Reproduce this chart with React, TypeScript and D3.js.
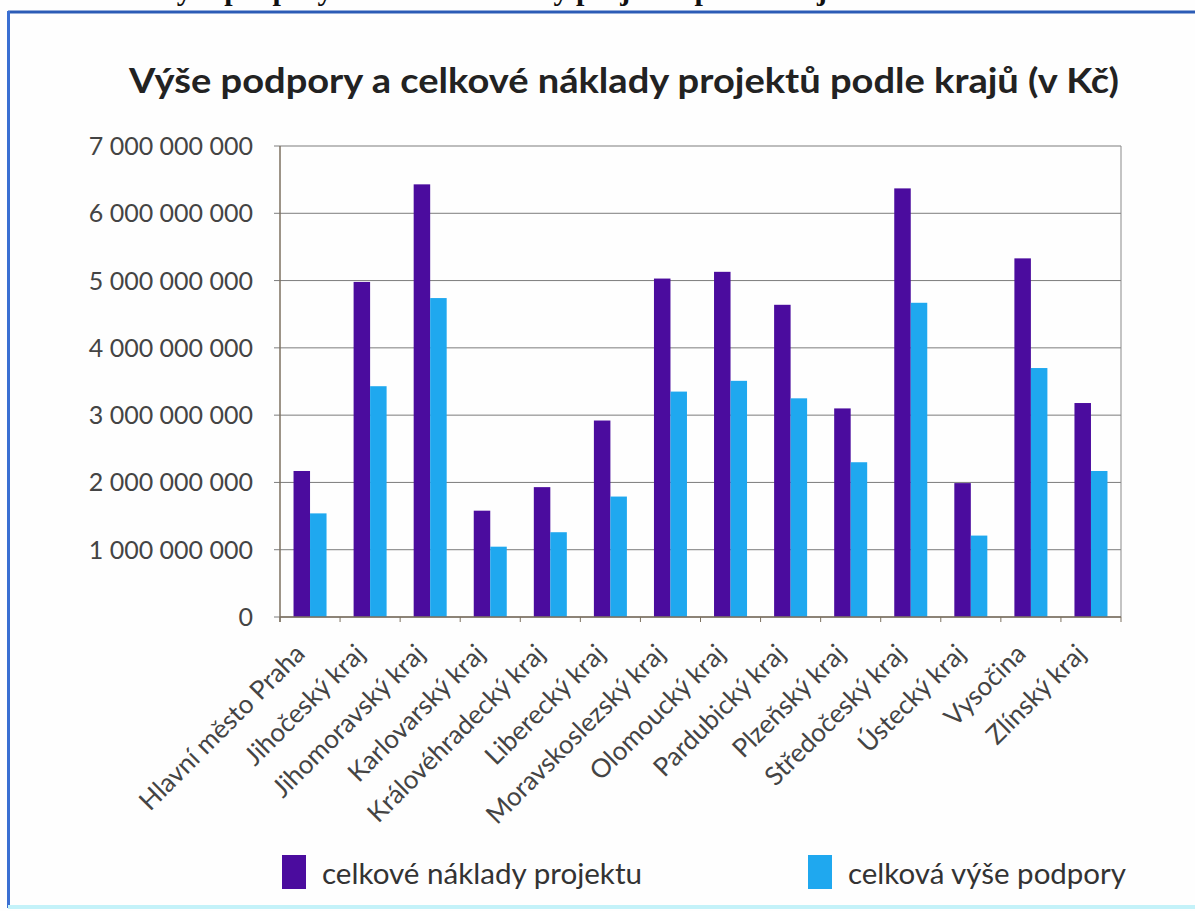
import * as d3 from "d3";

// kraje (x axis categories)
const regions = [
  "Hlavní město Praha",
  "Jihočeský kraj",
  "Jihomoravský kraj",
  "Karlovarský kraj",
  "Královéhradecký kraj",
  "Liberecký kraj",
  "Moravskoslezský kraj",
  "Olomoucký kraj",
  "Pardubický kraj",
  "Plzeňský kraj",
  "Středočeský kraj",
  "Ústecký kraj",
  "Vysočina",
  "Zlínský kraj",
];

// celkové náklady projektu (Kč)
const totalCosts = [
  2.17e9, 4.98e9, 6.43e9, 1.58e9, 1.93e9, 2.92e9, 5.03e9, 5.13e9, 4.64e9,
  3.1e9, 6.37e9, 1.99e9, 5.33e9, 3.18e9,
];

// celková výše podpory (Kč)
const totalSupport = [
  1.54e9, 3.43e9, 4.74e9, 1.045e9, 1.26e9, 1.79e9, 3.35e9, 3.51e9, 3.25e9,
  2.3e9, 4.67e9, 1.21e9, 3.7e9, 2.17e9,
];

const seriesNames = ["celkové náklady projektu", "celková výše podpory"];
const yTicks = [0, 1e9, 2e9, 3e9, 4e9, 5e9, 6e9, 7e9];

const W = 1195;
const H = 911;
const colors = ["#4b0c9e", "#1fa8ef"];
const font = "Lato, 'Open Sans', sans-serif";

export default function App() {
  const x = d3.scaleBand<string>().domain(regions).range([280, 1121]);
  const inner = d3
    .scaleBand<number>()
    .domain([0, 1])
    .range([0, x.bandwidth()])
    .paddingOuter(0.82);
  const y = d3.scaleLinear().domain([0, 7e9]).range([617, 146]);
  const series = [totalCosts, totalSupport];

  // "7 000 000 000" style labels
  const fmt = (v: number) => d3.format(",")(v).replace(/,/g, " ");

  const [x0, x1] = x.range();
  const y0 = y(0);

  return (
    <svg
      width={W}
      height={H}
      style={{ position: "absolute", left: 0, top: 0, background: "#fefefe" }}
    >
      {/* caption of the page above the figure, cut by the scan edge */}
      <text
        x={155}
        y={0}
        fontFamily="'Liberation Serif', 'Times New Roman', serif"
        fontWeight="bold"
        fontSize={30}
        fill="#111"
      >
        Výše podpory a celkové náklady projektů podle krajů
      </text>

      {/* blue frame */}
      <line x1={8} x2={W} y1={12} y2={12} stroke="#2c5cb6" strokeWidth={3} />
      <line x1={8.5} x2={8.5} y1={11} y2={908} stroke="#3a6fd2" strokeWidth={3} />
      <line x1={8} x2={W} y1={907} y2={907} stroke="#c4f2f9" strokeWidth={4} />

      <text
        x={129}
        y={93}
        fontFamily={font}
        fontWeight="bold"
        fontSize={34}
        fill="#222"
        textLength={990}
        lengthAdjust="spacingAndGlyphs"
      >
        Výše podpory a celkové náklady projektů podle krajů (v Kč)
      </text>

      {/* gridlines + y ticks */}
      {yTicks.map((t) => (
        <g key={t}>
          <line
            x1={274}
            x2={x1}
            y1={y(t)}
            y2={y(t)}
            stroke="#7c7c7c"
            strokeWidth={1}
          />
          <text
            x={253}
            y={y(t)}
            dy="0.36em"
            textAnchor="end"
            fontFamily={font}
            fontSize={25}
            fill="#444"
          >
            {fmt(t)}
          </text>
        </g>
      ))}
      <line x1={x1} x2={x1} y1={y(7e9)} y2={y0} stroke="#8a8a8a" />

      {/* bars */}
      {regions.map((r, i) => (
        <g key={r} transform={`translate(${x(r)},0)`}>
          {series.map((s, k) => (
            <rect
              key={k}
              x={inner(k)}
              y={y(s[i])}
              width={inner.bandwidth()}
              height={y0 - y(s[i])}
              fill={colors[k]}
            />
          ))}
        </g>
      ))}

      {/* axes */}
      <line x1={x0} x2={x0} y1={y(7e9)} y2={y0 + 5} stroke="#7d7160" strokeWidth={1.5} />
      <line x1={x0} x2={x1} y1={y0} y2={y0} stroke="#7d7160" strokeWidth={1.5} />
      {[...regions.map((r) => x(r) as number), x1].map((t, i) => (
        <line key={i} x1={t} x2={t} y1={y0} y2={y0 + 5} stroke="#7d7160" />
      ))}

      {/* rotated category labels */}
      {regions.map((r) => {
        const cx = (x(r) as number) + x.bandwidth() / 2;
        return (
          <text
            key={r}
            transform={`translate(${cx - 10},${y0 + 32}) rotate(-45)`}
            textAnchor="end"
            dy="0.35em"
            fontFamily={font}
            fontSize={26}
            fill="#444"
          >
            {r}
          </text>
        );
      })}

      {/* legend */}
      {seriesNames.map((n, k) => {
        const lx = [282, 808][k];
        return (
          <g key={n} transform={`translate(${lx},855)`}>
            <rect width={24} height={34} fill={colors[k]} />
            <text
              x={40}
              y={29}
              fontFamily={font}
              fontSize={28}
              fill="#333"
              textLength={k === 0 ? 320 : 278}
              lengthAdjust="spacingAndGlyphs"
            >
              {n}
            </text>
          </g>
        );
      })}
    </svg>
  );
}
